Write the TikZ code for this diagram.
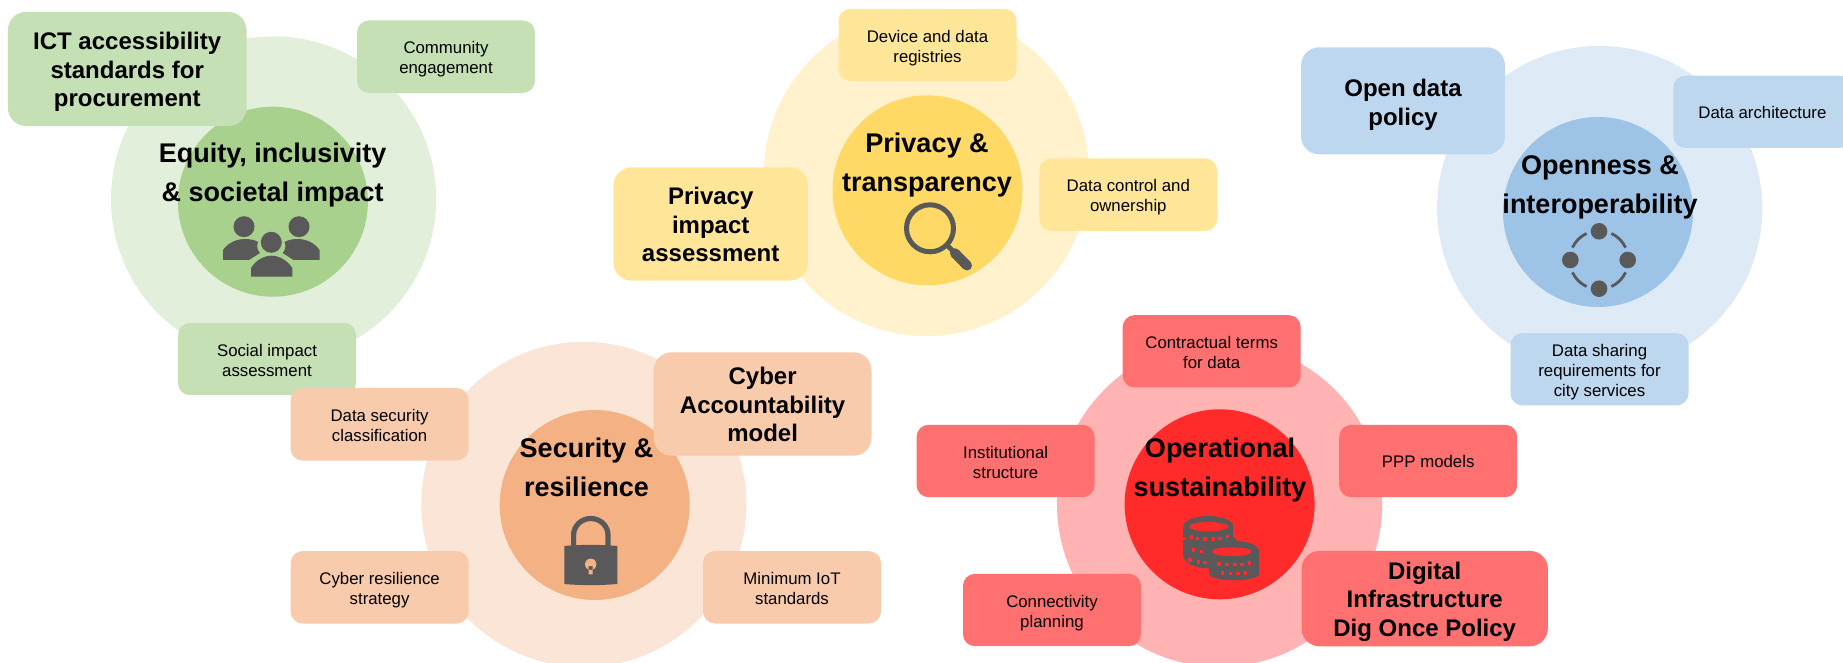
\documentclass[tikz,border=0pt]{standalone}
\usepackage{fontspec}
\setmainfont{Liberation Sans}
\usepackage{xcolor}
\usetikzlibrary{calc}
\definecolor{ringgreen}{HTML}{E2EFDA}
\definecolor{hubgreen}{HTML}{A9D18E}
\definecolor{boxgreen}{HTML}{C5E0B4}
\definecolor{ringyellow}{HTML}{FFF2CC}
\definecolor{hubyellow}{HTML}{FFD966}
\definecolor{boxyellow}{HTML}{FFE699}
\definecolor{ringblue}{HTML}{DEEBF7}
\definecolor{hubblue}{HTML}{9DC3E6}
\definecolor{boxblue}{HTML}{BDD7EE}
\definecolor{ringorange}{HTML}{FBE5D6}
\definecolor{huborange}{HTML}{F4B183}
\definecolor{boxorange}{HTML}{F8CBAD}
\definecolor{ringred}{HTML}{FFB3B3}
\definecolor{hubred}{HTML}{FF2B2B}
\definecolor{boxred}{HTML}{FF7171}
\definecolor{icongray}{HTML}{595959}

\begin{document}
\begin{tikzpicture}[x=0.5pt, y=-0.5pt,
    ring/.style={circle, inner sep=0pt, minimum size=162.6pt},
    hub/.style={circle, inner sep=0pt, minimum size=95pt},
    item/.style={rectangle, rounded corners=6pt, inner sep=0pt, minimum width=89pt, minimum height=36.2pt, align=center, font=\fontsize{8.4}{10}\selectfont, text height=19.3pt, text depth=2pt},
    keyitem/.style={rectangle, rounded corners=9pt, inner sep=0pt, align=center, font=\fontsize{12}{14.3}\selectfont\bfseries, text height=40.8pt, text depth=3pt},
    heading/.style={inner sep=0pt, align=center, font=\fontsize{13.5}{19.5}\selectfont\bfseries, text depth=3pt}]
        \useasboundingbox (0,0) rectangle (1843,663);
        \clip (0,0) rectangle (1843,663);

        % Equity
        \node[ring, fill=ringgreen] (eqring) at (273.6,199) {};
        \node[hub, fill=hubgreen] (eqhub) at (272.9,201.7) {};
        \node[keyitem, fill=boxgreen, minimum width=119.3pt, minimum height=57pt] (ict) at (127.2,69) {ICT accessibility\\standards for\\procurement};
        \node[item, fill=boxgreen] (community) at (446,56.7) {Community\\engagement};
        \node[item, fill=boxgreen] (socimpact) at (267,359) {Social impact\\assessment};
        \node[heading] (eqtitle) at (272.7,175.2) {Equity, inclusivity\\\& societal impact};

        % People icon
        \fill[icongray] (244,226.7) circle (10.5) (299,226.7) circle (10.5) (271.3,242.3) circle (10.5);
        \fill[icongray] (223,260) -- (223,250) .. controls (228,243) and (236,239) .. (245,239) .. controls (250,239) and (255,240) .. (258,242) .. controls (256,247) and (258,251) .. (260,253) -- (249,260) -- cycle;
        \fill[icongray] (319.6,260) -- (319.6,250) .. controls (314.6,243) and (306.6,239) .. (297.6,239) .. controls (292.6,239) and (287.6,240) .. (284.6,242) .. controls (286.6,247) and (284.6,251) .. (282.6,253) -- (293.6,260) -- cycle;
        \fill[icongray] (251,276.7) -- (251,268) .. controls (256,260) and (264,255.7) .. (271.5,255.7) .. controls (279,255.7) and (287,260) .. (292.3,268) -- (292.3,276.7) -- cycle;

        % Security
        \node[ring, fill=ringorange] (secring) at (583.8,504.4) {};
        \node[hub, fill=huborange] (sechub) at (594.7,505) {};
        \node[item, fill=boxorange] (datasec) at (379.6,424.3) {Data security\\classification};
        \node[item, fill=boxorange] (resilstrat) at (379.6,587.3) {Cyber resilience\\strategy};
        \node[item, fill=boxorange] (iotstd) at (792,587.3) {Minimum IoT\\standards};
        \node[keyitem, fill=boxorange, minimum width=108.9pt, minimum height=51.7pt] (cyberacc) at (762.6,404) {Cyber\\Accountability\\model};
        \node[heading] (sectitle) at (586.5,469.8) {Security \&\\resilience};

        % Lock icon
        \draw[icongray, line width=2.6pt] (573.6,548) -- (573.6,535) arc[start angle=180, end angle=360, x radius=17.2, y radius=16.5] -- (608,548);
        \fill[icongray] (564.3,546) .. controls (580,544.5) and (600,544.5) .. (617.3,546) -- (617.3,584) .. controls (600,585.5) and (580,585.5) .. (564.3,584) -- cycle;
        \fill[huborange] (590.7,564.3) circle (5.7) (588.7,566) rectangle (592.7,574.3);

        % Privacy
        \node[ring, fill=ringyellow] (prvring) at (926.5,173.5) {};
        \node[hub, fill=hubyellow] (prvhub) at (927.5,190.3) {};
        \node[item, fill=boxyellow] (registries) at (927.5,45) {Device and data\\registries};
        \node[item, fill=boxyellow] (ownership) at (1128.3,194.7) {Data control and\\ownership};
        \node[keyitem, fill=boxyellow, minimum width=97.2pt, minimum height=56.7pt] (prvimpact) at (710.7,224) {Privacy\\impact\\assessment};
        \node[heading] (prvtitle) at (927,165.2) {Privacy \&\\transparency};

        % Magnifier icon
        \draw[icongray, line width=2.5pt] (930,228.3) circle (23.5);
        \draw[icongray, line width=2.5pt] (947,245) -- (955,253.3);
        \draw[icongray, line width=5pt, line cap=round] (955,253.3) -- (967,265.5);

        % Openness
        \node[ring, fill=ringblue] (opnring) at (1599.7,208.5) {};
        \node[hub, fill=hubblue] (opnhub) at (1598,212) {};
        \node[keyitem, fill=boxblue, text height=27.7pt, minimum width=101.9pt, minimum height=53.5pt] (opendata) at (1403,100.8) {Open data\\policy};
        \node[item, fill=boxblue, text height=8.4pt] (dataarch) at (1762.4,111.8) {Data architecture};
        \node[item, fill=boxblue, text height=29.5pt] (datashare) at (1599.5,369.3) {Data sharing\\requirements for\\city services};
        \node[heading] (opntitle) at (1600,187.8) {Openness \&\\interoperability};

        % Network icon
        \fill[icongray] (1599,231.3) circle (8.3) (1570.3,260) circle (8.3) (1627.7,260) circle (8.3) (1599,288.7) circle (8.3);
        \foreach \ang in {45,135,225,315}
            \draw[icongray, line width=1.4pt] ($(1599,260)+(\ang-20:29.3)$) arc[start angle=\ang-20, end angle=\ang+20, radius=29.3];

        % Operational
        \node[ring, fill=ringred] (oprring) at (1219.6,504.3) {};
        \node[hub, fill=hubred] (oprhub) at (1219.6,504.3) {};
        \node[item, fill=boxred] (contract) at (1211.7,351.3) {Contractual terms\\for data};
        \node[item, fill=boxred] (instit) at (1005.6,461) {Institutional\\structure};
        \node[item, fill=boxred, text height=8.4pt] (ppp) at (1428.2,461) {PPP models};
        \node[item, fill=boxred] (connect) at (1052,610) {Connectivity\\planning};
        \node[keyitem, fill=boxred, minimum width=123.2pt, minimum height=47.7pt] (digital) at (1424.7,598.6) {Digital\\Infrastructure\\Dig Once Policy};
        \node[heading] (oprtitle) at (1220,469.8) {Operational\\sustainability};

        % Coins icon
        \begin{scope}[shift={(1170,505)}, x=0.1667pt, y=-0.1667pt]
            \fill[icongray] (115,65) ellipse [x radius=75, y radius=32];
            \fill[icongray] (40,65) rectangle (190,100);
            \fill[icongray] (122,112) ellipse [x radius=80, y radius=28];
            \fill[icongray] (40,105) rectangle (202,150);
            \fill[icongray] (115,150) ellipse [x radius=75, y radius=40];
            \fill[icongray] (193,140) ellipse [x radius=75, y radius=32];
            \fill[icongray] (118,140) rectangle (268,205);
            \fill[icongray] (193,205) ellipse [x radius=75, y radius=21];
            \fill[hubred] (116,65) ellipse [x radius=59, y radius=14];
            \fill[hubred] (185,140) ellipse [x radius=60, y radius=13];
            \foreach \tx/\ty in {65/96,83/100,105/102,130/102,150/100,172/95,70/135,95/139,60/165,85/171,105/173,147/177,171/179,195/179,216/178,238/174,157/204,181/206,204/206,226/204}
                \fill[hubred] (\tx-5,\ty-5) rectangle (\tx+5,\ty+5);
        \end{scope}
\end{tikzpicture}
\end{document}
